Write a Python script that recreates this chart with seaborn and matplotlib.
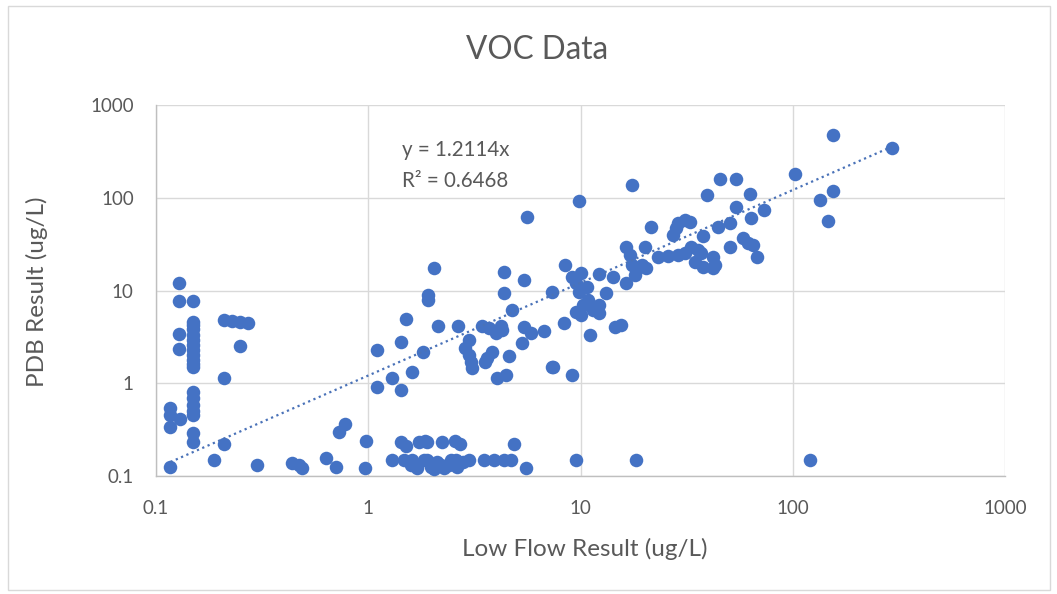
import matplotlib
matplotlib.use("Agg")
import matplotlib.pyplot as plt
import seaborn as sns
import numpy as np
import pandas as pd
from matplotlib.patches import Rectangle
from matplotlib.ticker import LogLocator, FixedLocator, NullFormatter

# ---------------- data ----------------
low_flow = [
    # left columns
    0.128, 0.128, 0.128, 0.128,
    0.149, 0.149, 0.149, 0.149, 0.149, 0.149, 0.149, 0.149, 0.149, 0.149, 0.149, 0.149,
    0.149, 0.149, 0.149, 0.149, 0.149, 0.149, 0.149,
    0.117, 0.117, 0.117, 0.13, 0.117,
    0.208, 0.227, 0.248, 0.27, 0.248, 0.208, 0.187, 0.208, 0.298,
    # bottom row
    0.435, 0.474, 0.485, 0.635, 0.708, 0.731, 0.780, 0.979, 0.968,
    1.30, 1.43, 1.73, 1.85, 2.22, 2.56, 2.70, 1.51, 1.90,
    1.48, 1.59, 1.70, 1.83, 1.98, 2.11, 2.27, 2.45, 2.62, 2.79, 2.98,
    1.61, 2.04, 2.20, 1.90, 2.40, 2.60,
    3.51, 3.90, 4.35, 4.69, 4.84, 5.52, 9.57, 18.3, 120.0,
    # middle
    1.10, 1.10, 1.30, 1.43, 1.43, 1.51, 1.61, 1.81, 1.91, 1.91, 2.04, 2.13, 2.65,
    2.98, 2.85, 2.98, 3.05, 3.08, 3.62, 3.82, 3.54, 4.59, 4.03, 4.45, 7.31,
    3.43, 3.70, 3.99, 4.26, 4.21, 5.40, 5.82, 6.70, 5.28,
    4.35, 5.40, 4.35, 4.74, 7.31, 5.58, 9.89,
    # cluster around 10
    17.4, 21.5, 28.8, 31.1, 32.8, 28.2, 27.3,
    16.4, 17.2, 20.2,
    8.41, 9.08, 9.57, 10.0, 12.2, 14.3,
    17.4, 18.3, 19.5, 16.4, 18.1, 20.4,
    10.7, 9.79, 10.9, 10.3, 11.5, 10.1,
    13.2, 12.2, 12.2, 9.48, 8.32, 14.6, 15.6, 11.1, 7.39, 9.08,
    23.2, 25.9, 28.8, 31.1, 33.2, 35.8,
    # upper right
    154.0, 294.0, 102.0, 45.4, 54.0, 39.4, 62.8, 54.0, 73.1, 63.5, 154.0, 134.0, 146.0,
    44.5, 50.6, 37.8, 58.2, 61.5, 64.9, 50.6, 67.8,
    37.0, 34.7, 37.8, 42.1, 43.0, 42.1,
]
pdb = [
    12.1, 7.73, 3.40, 2.34,
    7.73, 4.6, 4.2, 3.8, 3.3, 2.9, 2.6, 2.3, 2.0, 1.8, 1.6, 1.5,
    0.81, 0.70, 0.58, 0.50, 0.45, 0.29, 0.23,
    0.54, 0.45, 0.34, 0.41, 0.125,
    4.82, 4.70, 4.60, 4.50, 2.53, 1.14, 0.15, 0.22, 0.13,
    0.138, 0.131, 0.122, 0.156, 0.125, 0.298, 0.364, 0.236, 0.122,
    0.15, 0.23, 0.23, 0.24, 0.23, 0.24, 0.22, 0.21, 0.23,
    0.149, 0.131, 0.122, 0.149, 0.125, 0.142, 0.122, 0.149, 0.125, 0.142, 0.149,
    0.15, 0.12, 0.13, 0.15, 0.13, 0.15,
    0.149, 0.149, 0.149, 0.149, 0.221, 0.122, 0.149, 0.149, 0.15,
    2.29, 0.912, 1.14, 0.847, 2.79, 4.94, 1.32, 2.18, 8.97, 7.92, 17.5, 4.15, 4.15,
    2.93, 2.40, 2.02, 1.70, 1.46, 1.87, 2.18, 1.70, 1.97, 1.14, 1.23, 1.50,
    4.15, 3.95, 3.49, 3.76, 4.15, 4.05, 3.49, 3.66, 2.72,
    15.9, 13.0, 9.42, 6.18, 9.66, 62.2, 92.6,
    138.0, 48.5, 53.6, 57.8, 55.0, 47.3, 39.8,
    29.5, 24.2, 29.5,
    18.9, 14.0, 12.1, 15.5, 15.1, 14.0,
    18.9, 16.7, 18.9, 12.1, 14.7, 17.5,
    10.9, 9.66, 7.92, 7.00, 6.18, 5.46,
    9.42, 5.73, 7.00, 5.88, 4.47, 4.05, 4.26, 3.32, 1.50, 1.23,
    23.0, 23.6, 24.0, 25.5, 29.5, 27.4,
    477.0, 345.0, 181.0, 160.0, 160.0, 107.0, 110.0, 79.8, 74.0, 60.7, 119.0, 94.9, 56.4,
    48.5, 53.6, 38.8, 36.9, 32.6, 31.0, 29.5, 23.0,
    25.5, 20.4, 18.0, 23.0, 18.9, 17.5,
]
trend_slope = 1.2114
r_squared = 0.6468
tick_values = [0.1, 1, 10, 100, 1000]
tick_labels = ["0.1", "1", "10", "100", "1000"]

df = pd.DataFrame({"low_flow": low_flow, "pdb": pdb})

# ---------------- style ----------------
sns.set_style("white")
plt.rcParams["font.family"] = ["Lato", "DejaVu Sans"]

TXT = "#595959"
BLUE = "#4472C4"

fig = plt.figure(figsize=(10.57, 5.94), dpi=100)
fig.patches.append(Rectangle((8 / 1057, 1 - 590 / 594), 1042 / 1057, 584 / 594,
                             transform=fig.transFigure, fill=False,
                             edgecolor="#D9D9D9", linewidth=1.0))
ax = fig.add_axes([156 / 1057, 1 - 476 / 594, 849 / 1057, 371 / 594])

ax.set_xscale("log")
ax.set_yscale("log")
ax.set_xlim(0.1, 1000)
ax.set_ylim(0.1, 1000)

sns.scatterplot(data=df, x="low_flow", y="pdb", ax=ax, color=BLUE, s=95,
                linewidth=0, alpha=1.0, zorder=3, legend=False)

xs = np.array([min(low_flow), max(low_flow)])
trend = pd.DataFrame({"x": xs, "y": trend_slope * xs})
ax.plot(trend["x"], trend["y"], linestyle=(0, (1, 1.6)), color="#4A72B8",
        linewidth=1.6, zorder=4)

ax.xaxis.set_major_locator(FixedLocator(tick_values))
ax.yaxis.set_major_locator(FixedLocator(tick_values))
ax.set_xticklabels(tick_labels)
ax.set_yticklabels(tick_labels)
ax.xaxis.set_minor_locator(LogLocator(base=10, subs=np.arange(2, 10)))
ax.yaxis.set_minor_locator(LogLocator(base=10, subs=np.arange(2, 10)))
ax.xaxis.set_minor_formatter(NullFormatter())
ax.yaxis.set_minor_formatter(NullFormatter())

ax.grid(True, which="major", color="#D9D9D9", linewidth=1.0)
ax.set_axisbelow(True)
for side in ["top", "right"]:
    ax.spines[side].set_visible(False)
for side in ["left", "bottom"]:
    ax.spines[side].set_color("#BFBFBF")
    ax.spines[side].set_linewidth(1.0)

ax.tick_params(axis="both", which="major", length=0, labelsize=13.5,
               labelcolor=TXT)
ax.tick_params(axis="x", which="major", pad=17)
ax.tick_params(axis="y", which="major", pad=16)
ax.tick_params(axis="both", which="minor", direction="in", length=5,
               color="#BFBFBF", width=0.8)

ax.set_xlabel("Low Flow Result (ug/L)", fontsize=17.5, color=TXT)
ax.set_ylabel("PDB Result (ug/L)", fontsize=17.5, color=TXT)
ax.xaxis.set_label_coords((585 - 156) / 849, (476 - 549) / 371)
ax.xaxis.label.set_va("center")
ax.yaxis.set_label_coords((37 - 156) / 849, (476 - 292) / 371)
ax.yaxis.label.set_va("center")

fig.text(0.508, 1 - 50 / 594, "VOC Data", ha="center", va="center",
         fontsize=22.7, color=TXT)

ax.text((402 - 156) / 849, (476 - 150) / 371, f"y = {trend_slope:.4f}x",
        transform=ax.transAxes, ha="left", va="center", fontsize=14.8,
        color=TXT)
ax.text((402 - 156) / 849, (476 - 181) / 371, f"R² = {r_squared:.4f}",
        transform=ax.transAxes, ha="left", va="center", fontsize=14.8,
        color=TXT)

fig.savefig("out.png", dpi=100)
